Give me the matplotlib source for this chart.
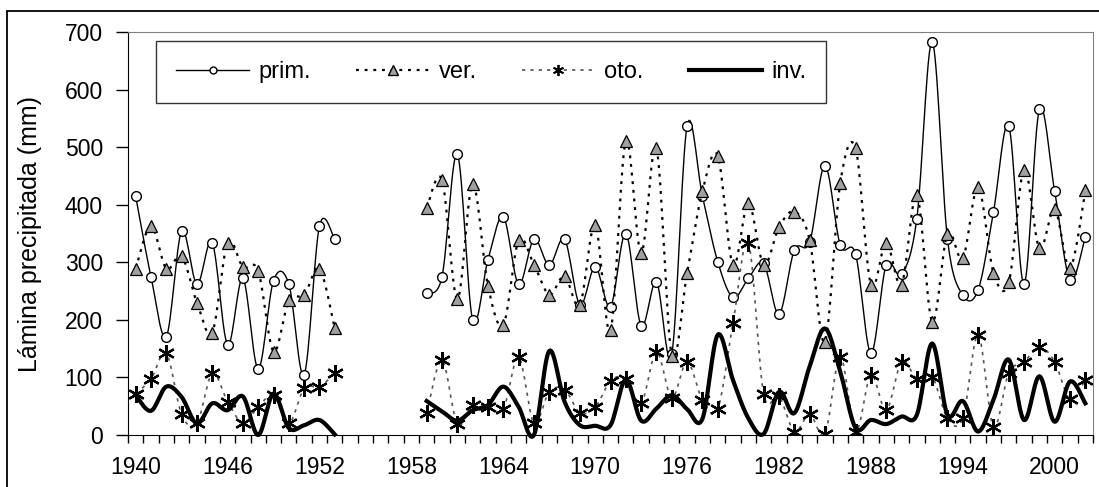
import numpy as np
import matplotlib
matplotlib.use("Agg")
import matplotlib.pyplot as plt
from matplotlib.patches import Rectangle

plt.rcParams["font.family"] = ["Liberation Sans", "DejaVu Sans"]

years = list(range(1940, 2003))
nan = np.nan
gap = [nan] * 5  # 1954-1958 sin datos

prim = [415, 275, 171, 354, 262, 334, 157, 272, 115, 268, 262, 105, 363, 340] + gap + [
    246, 275, 488, 200, 304, 379, 262, 340, 295, 340, 226, 292, 223, 350, 190, 266, 141, 537, 415, 301,
    239, 272, 298, 210, 321, 335, 468, 330, 314, 142, 295, 279, 376, 683, 340, 243, 252, 387, 537, 262,
    566, 423, 269, 344]
ver = [289, 363, 289, 311, 230, 178, 334, 292, 285, 145, 234, 243, 289, 185] + gap + [
    394, 443, 236, 436, 259, 191, 338, 296, 244, 276, 226, 365, 182, 511, 316, 498, 138, 281, 423, 485,
    295, 403, 296, 361, 388, 339, 162, 438, 498, 261, 334, 261, 417, 197, 350, 307, 431, 282, 265, 461,
    324, 392, 290, 425]
oto = [72, 97, 142, 36, 20, 107, 58, 21, 49, 69, 20, 81, 84, 107] + gap + [
    38, 130, 19, 52, 49, 45, 135, 21, 75, 79, 39, 48, 94, 98, 55, 144, 65, 127, 61, 45,
    195, 334, 71, 68, 6, 36, 2, 136, 6, 104, 43, 127, 98, 101, 29, 29, 174, 14, 108, 127,
    153, 127, 62, 96]
inv = [69, 42, 84, 66, 20, 55, 43, 67, 0, 72, 12, 17, 26, 1] + gap + [
    59, 41, 25, 43, 52, 84, 49, 0, 146, 58, 17, 16, 17, 96, 25, 46, 69, 45, 28, 174,
    95, 29, 2, 75, 38, 119, 185, 110, 12, 26, 19, 32, 35, 159, 35, 59, 6, 61, 131, 26,
    102, 23, 93, 55]

xlabels = [str(y) for y in range(1940, 2001, 6)]


def smooth(xv, yv, n=16):
    # curva suavizada tipo Excel (Bezier / Catmull-Rom) en cada tramo sin huecos
    out_x, out_y = [], []
    xv = np.asarray(xv, float)
    yv = np.asarray(yv, float)
    ok = ~np.isnan(yv)
    idx = np.where(ok)[0]
    runs = np.split(idx, np.where(np.diff(idx) != 1)[0] + 1)
    for r in runs:
        px, py = xv[r], yv[r]
        m = len(px)
        sx, sy = [], []
        for i in range(m - 1):
            i0 = max(i - 1, 0)
            i3 = min(i + 2, m - 1)
            c1x = px[i] + (px[i + 1] - px[i0]) / 6
            c1y = py[i] + (py[i + 1] - py[i0]) / 6
            c2x = px[i + 1] - (px[i3] - px[i]) / 6
            c2y = py[i + 1] - (py[i3] - py[i]) / 6
            t = np.linspace(0, 1, n, endpoint=(i == m - 2))
            a, b, c, d = (1 - t) ** 3, 3 * (1 - t) ** 2 * t, 3 * (1 - t) * t ** 2, t ** 3
            sx.extend(a * px[i] + b * c1x + c * c2x + d * px[i + 1])
            sy.extend(a * py[i] + b * c1y + c * c2y + d * py[i + 1])
        out_x.extend(sx + [nan])
        out_y.extend(sy + [nan])
    return np.array(out_x), np.array(out_y)


fig = plt.figure(figsize=(10.99, 4.87), dpi=100)
ax = fig.add_axes([128 / 1099, 52 / 487, 965 / 1099, 403 / 487])

xi = np.arange(len(years))

# prim.
sx, sy = smooth(xi, prim)
ax.plot(sx, sy, color="black", lw=1.0)
ax.plot(xi, prim, ls="none", marker="o", ms=7, mfc="white", mec="black", mew=1.0)
# ver.
sx, sy = smooth(xi, ver)
ax.plot(sx, sy, color="black", lw=1.6, ls=(0, (1.3, 2.6)))
ax.plot(xi, ver, ls="none", marker="^", ms=8.5, mfc="#a0a0a0", mec="black", mew=0.9)
# oto.
sx, sy = smooth(xi, oto)
ax.plot(sx, sy, color="#555555", lw=1.2, ls=(0, (2, 3)))
ax.plot(xi, oto, ls="none", marker=(6, 2, 0), ms=12, mec="black", mew=1.6)
# inv.
sx, sy = smooth(xi, inv)
ax.plot(sx, sy, color="black", lw=3.0, clip_on=False, zorder=5)

ax.set_xlim(-0.5, len(years) - 0.5)
ax.set_ylim(0, 700)
ax.set_yticks(range(0, 701, 100))
ax.set_xticks(range(0, len(years), 6))
ax.set_xticklabels(xlabels)
ax.set_xticks(np.arange(-0.5, len(years), 1), minor=True)
ax.tick_params(axis="x", which="major", length=0, pad=15, labelsize=16.5)
ax.tick_params(axis="x", which="minor", length=6, width=1, direction="out")
ax.tick_params(axis="y", length=9, width=1, pad=9, labelsize=16.5)

for s in ["top", "right"]:
    ax.spines[s].set_color("#808080")
for s in ["left", "bottom"]:
    ax.spines[s].set_color("black")

fig.text(30 / 1099, 0.52, "Lámina precipitada (mm)", rotation=90, ha="center", va="center", fontsize=18)

# leyenda
h1, = ax.plot([], [], color="black", lw=1.0, marker="o", ms=5, mfc="white", mec="black")
h2, = ax.plot([], [], color="black", lw=1.6, ls=(0, (1.3, 2.6)), marker="^", ms=6.5, mfc="#a0a0a0", mec="black")
h3, = ax.plot([], [], color="#555555", lw=1.2, ls=(0, (2, 3)), marker=(6, 2, 0), ms=8, mec="black", mew=1.3)
h4, = ax.plot([], [], color="black", lw=3.0)
leg = ax.legend([h1, h2, h3, h4], ["prim.", "ver.", "oto.", "inv."], ncol=4,
                loc="upper left", bbox_to_anchor=(156 / 1099, 1 - 41 / 487),
                bbox_transform=fig.transFigure, fontsize=17, frameon=True, fancybox=False,
                borderpad=0.85, handlelength=3.1, handletextpad=0.4, columnspacing=1.9,
                borderaxespad=0)
leg.get_frame().set_edgecolor("black")
leg.get_frame().set_linewidth(1.0)

# borde del area del grafico
fig.add_artist(Rectangle((7 / 1099, -0.1), 1.5, 1.1 - 10.7 / 487, transform=fig.transFigure,
                         fill=False, ec="black", lw=1.3))

fig.savefig("out.png", dpi=100)
